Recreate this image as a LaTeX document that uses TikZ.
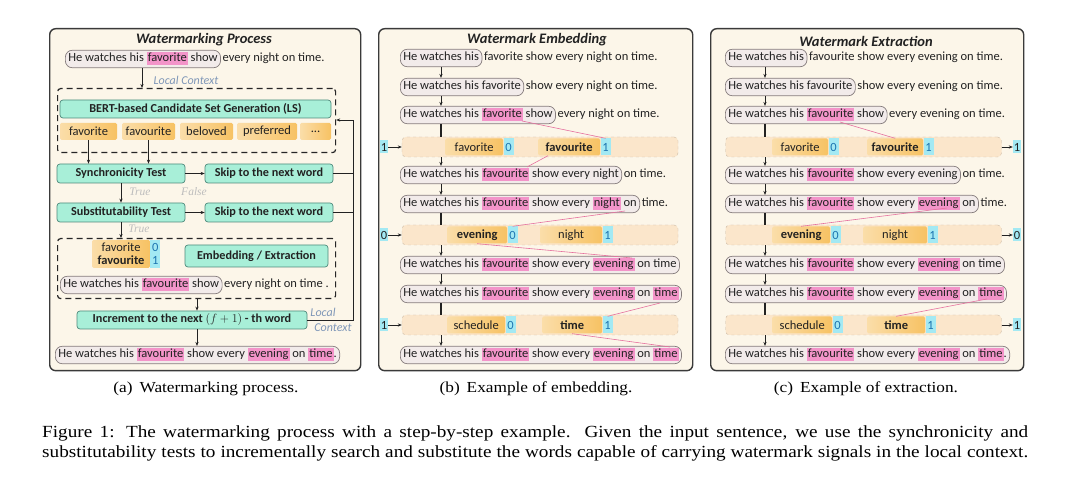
\documentclass[tikz,border=0pt]{standalone}
\usepackage{graphicx}
\usepackage{fontspec}
\setmainfont{Carlito}
\newfontfamily\capfont{Liberation Serif}
\usetikzlibrary{arrows.meta,calc}
\definecolor{panelbg}{HTML}{FCF6E9}
\definecolor{paneldraw}{HTML}{3A3A3A}
\definecolor{pillfill}{HTML}{F2EBEA}
\definecolor{pilldraw}{HTML}{857C7C}
\definecolor{hlpink}{HTML}{F394C9}
\definecolor{pinkline}{HTML}{E5709E}
\definecolor{gfill}{HTML}{A8EFD8}
\definecolor{gdraw}{HTML}{4F8A7C}
\definecolor{ofill}{HTML}{F7C263}
\definecolor{cfill}{HTML}{A3E9F3}
\definecolor{ctext}{HTML}{1C74B0}
\definecolor{barfill}{HTML}{FBE6CB}
\definecolor{bardraw}{HTML}{CDBBA6}
\definecolor{lblue}{HTML}{7F97B8}
\definecolor{lgray}{HTML}{BDBDBD}
\definecolor{txtc}{HTML}{222222}
\newcommand\ptxt{\fontsize{12.5}{14}\selectfont}
\newcommand\sstrut{\rule[-3.5pt]{0pt}{13pt}}
\newcommand\hlw[1]{{\setlength\fboxsep{0pt}\colorbox{hlpink}{\sstrut\hspace{1pt}#1\hspace{1pt}}}}
\newcommand\rowr[5]{%
  \node[pill] (#1) at (#2,#3) {\sstrut #4};
  \node[rest] (#1r) at (#1.base east) {#5};}
\newcommand\barrow[9]{%
  \node[bar] (#1) at (#3,#2) {};
  \node[ob, minimum width=#5pt] (#1o0) at (#4,#2) {#6};
  \node[cb] (#1c0) at (#1o0.east) {0};
  \node[ob, minimum width=#8pt] (#1o1) at (#7,#2) {#9};
  \node[cb] (#1c1) at (#1o1.east) {1};}
\begin{document}
\begin{tikzpicture}[x=1pt,y=-1pt,
  panel/.style={draw=paneldraw, fill=panelbg, line width=1.4pt, rounded corners=6pt, anchor=north west, inner sep=0pt},
  pill/.style={draw=pilldraw, fill=pillfill, line width=0.7pt, rounded corners=7pt, inner xsep=3pt, inner ysep=0pt, minimum height=17.5pt, anchor=west, font=\ptxt, text=txtc},
  rest/.style={anchor=base west, inner xsep=1.5pt, inner ysep=0pt, font=\ptxt, text=txtc},
  gbox/.style={draw=gdraw, fill=gfill, line width=0.7pt, rounded corners=3pt, inner sep=0pt, font=\fontsize{12.2}{14}\selectfont\bfseries, text=txtc},
  ob/.style={anchor=west, left color=ofill!55!white, right color=ofill, rounded corners=1.5pt, inner sep=0pt, minimum height=17pt, font=\ptxt, text=txtc},
  cb/.style={anchor=west, fill=cfill, inner sep=0pt, minimum width=10pt, minimum height=17pt, font=\ptxt, text=ctext},
  mk/.style={fill=cfill, inner sep=0pt, minimum width=8pt, minimum height=13pt, font=\ptxt, text=txtc},
  bar/.style={draw=bardraw, dashed, fill=barfill, rounded corners=4pt, minimum width=276pt, minimum height=20pt, inner sep=0pt},
  dbox/.style={draw=black!85, line width=1.2pt, dash pattern=on 6pt off 4pt, rounded corners=3pt, anchor=north west, inner sep=0pt},
  arr/.style={-{Stealth[length=4pt,width=3.2pt]}, line width=0.7pt, draw=txtc},
  ln/.style={line width=0.9pt, draw=txtc},
  thk/.style={line width=1.8pt, draw=txtc},
  pl/.style={draw=pinkline, line width=0.6pt},
  ttl/.style={font=\fontsize{14.5}{16}\selectfont\bfseries\itshape, text=txtc, inner sep=0pt},
  lbl/.style={font=\fontsize{12}{13}\selectfont\itshape, text=lblue, inner sep=0pt},
  fnt/.style={font=\capfont\fontsize{11.5}{12}\selectfont\itshape, text=lgray, inner sep=0pt},
  subcap/.style={font=\capfont\fontsize{15.3}{17}\selectfont, text=black, inner sep=0pt},
  captext/.style={font=\capfont\fontsize{17}{20}\selectfont, text=black, inner sep=0pt, anchor=base west}]
\useasboundingbox (0,0) rectangle (1080,502);
\fill[white] (0,0) rectangle (1080,502);

% ---------------- panels
\node[panel, minimum width=311pt, minimum height=342pt] (pa) at (49,28) {};
\node[panel, minimum width=314pt, minimum height=342pt] (pb) at (378,28) {};
\node[panel, minimum width=313pt, minimum height=342pt] (pc) at (710,28) {};
\node[ttl] (ta) at (204,40) {Watermarking Process};
\node[ttl] (tb) at (537,40) {Watermark Embedding};
\node[ttl] (tc) at (866,41) {Watermark Extraction};

% ---------------- panel (a)
\rowr{a1}{65}{59}{He watches his \hlw{favorite} show}{every night on time.}
\node[dbox, minimum width=278pt, minimum height=64pt] (d1) at (57,88) {};
\node[lbl] (lc1) at (186,80) {Local Context};
\node[gbox, minimum width=271pt, minimum height=18pt] (bert) at (195.5,109) {BERT-based Candidate Set Generation (LS)};
\node[ob, anchor=center, minimum width=57pt] (k1) at (88.5,131.5) {favorite};
\node[ob, anchor=center, minimum width=53pt] (k2) at (148.5,131.5) {favourite};
\node[ob, anchor=center, minimum width=53pt] (k3) at (206.5,131.5) {beloved};
\node[ob, anchor=center, minimum width=60pt] (k4) at (267,131.5) {preferred};
\node[ob, anchor=center, minimum width=31pt] (k5) at (315.5,131.5) {...};
\node[gbox, minimum width=128pt, minimum height=19pt] (sync) at (121,173.5) {Synchronicity Test};
\node[gbox, minimum width=128pt, minimum height=19pt] (skip1) at (269,173.5) {Skip to the next word};
\node[gbox, minimum width=128pt, minimum height=19pt] (subst) at (121,212.5) {Substitutability Test};
\node[gbox, minimum width=128pt, minimum height=19pt] (skip2) at (269,212.5) {Skip to the next word};
\node[fnt] (t1) at (140,192) {True};
\node[fnt] (f1) at (194,192) {False};
\node[fnt] (t2) at (139,229) {True};
\node[dbox, minimum width=278pt, minimum height=60pt] (d2) at (57,238) {};
\node[ob, anchor=center, minimum width=58pt, minimum height=28pt, align=center, font=\fontsize{12.5}{13}\selectfont] (stk) at (121,254) {favorite\\\textbf{favourite}};
\node[cb, minimum height=28pt, align=center, font=\fontsize{12.5}{13}\selectfont] (stkc) at (stk.east) {0\\1};
\node[gbox, minimum width=143pt, minimum height=22pt] (emb) at (256.5,256) {Embedding / Extraction};
\rowr{a2}{60}{285}{He watches his \hlw{favourite} show}{every night on time .}
\node[gbox, minimum width=230pt, minimum height=18pt] (inc) at (192,320) {Increment to the next $(f+1)$ - th word};
\node[pill] (a3) at (55,355) {\sstrut He watches his \hlw{favourite} show every \hlw{evening} on \hlw{time}.};
\coordinate (ax1) at (142,0);
\coordinate (ax2) at (197,0);
\coordinate (lr) at (353,320);
\coordinate (lt) at (353,120);
\draw[arr] (a1.south -| ax1) -- (d1.north -| ax1);
\draw[arr] (k1.south) -- (sync.north -| k1.south);
\draw[arr] (k2.south) -- (sync.north -| k2.south);
\draw[arr] (sync.east) -- (skip1.west);
\draw[arr] (subst.east) -- (skip2.west);
\draw[arr] (sync.south) -- (subst.north);
\draw[arr] (subst.south) -- (d2.north -| subst.south);
\draw[arr] (d2.south -| ax2) -- (inc.north -| ax2);
\draw[arr] (inc.south -| ax2) -- (a3.north -| ax2);
\draw[arr] (inc.east) -- (lr) -- (lt) -- (d1.east |- lt);
\draw[ln] (skip1.east) -- (skip1.east -| lr);
\draw[ln] (skip2.east) -- (skip2.east -| lr);
\node[lbl] (lc2) at (323,312) {Local};
\node[lbl] (lc3) at (333,328) {Context};

% ---------------- panel (b)
\rowr{b1}{400}{58}{He watches his}{favorite show every night on time.}
\rowr{b2}{400}{87}{He watches his favorite}{show every night on time.}
\rowr{b3}{400}{115}{He watches his \hlw{favorite} show}{every night on time.}
\barrow{bb1}{147}{540}{445}{58}{favorite}{538}{62}{\bfseries favourite}
\rowr{b4}{400}{175}{He watches his \hlw{favourite} show every night}{on time.}
\rowr{b5}{400}{204}{He watches his \hlw{favourite} show every \hlw{night} on}{time.}
\barrow{bb2}{235}{540}{447}{60}{\bfseries evening}{540}{62}{night}
\node[pill] (b6) at (400,265) {\sstrut He watches his \hlw{favourite} show every \hlw{evening} on time};
\node[pill] (b7) at (400,294) {\sstrut He watches his \hlw{favourite} show every \hlw{evening} on \hlw{time}\ };
\barrow{bb3}{325}{540}{447}{58}{schedule}{542}{60}{\bfseries time}
\node[pill] (b8) at (400,355) {\sstrut He watches his \hlw{favourite} show every \hlw{evening} on \hlw{time}\ };
\node[mk] (bm1) at (384,147) {1};
\node[mk] (bm2) at (384,235) {0};
\node[mk] (bm3) at (384,325) {1};
\draw[arr] (bm1.east) -- (bb1.west);
\draw[arr] (bm2.east) -- (bb2.west);
\draw[arr] (bm3.east) -- (bb3.west);
\coordinate (bx) at (441,0);
\draw[arr] (b1.south -| bx) -- (b2.north -| bx);
\draw[arr] (b2.south -| bx) -- (b3.north -| bx);
\draw[thk] (b3.south -| bx) -- (bb1.north -| bx);
\draw[arr] (bb1.south -| bx) -- (b4.north -| bx);
\draw[arr] (b4.south -| bx) -- (b5.north -| bx);
\draw[thk] (b5.south -| bx) -- (bb2.north -| bx);
\draw[arr] (bb2.south -| bx) -- (b6.north -| bx);
\draw[arr] (b6.south -| bx) -- (b7.north -| bx);
\draw[thk] (b7.south -| bx) -- (bb3.north -| bx);
\draw[arr] (bb3.south -| bx) -- (b8.north -| bx);
\coordinate (pb1s) at (522,121);
\coordinate (pb1e) at (527,167);
\coordinate (pb2s) at (625,211);
\coordinate (pb2e) at (632,258);
\coordinate (pb3s) at (660,303);
\coordinate (pb3e) at (670,347);
\draw[pl] (pb1s) -- (bb1c1.north);
\draw[pl] ($(bb1o1.south west)+(10,0)$) -- (pb1e);
\draw[pl] (pb2s) -- (bb2c0.north);
\draw[pl] (bb2o0.south) -- (pb2e);
\draw[pl] (pb3s) -- (bb3c1.north);
\draw[pl] (bb3o1.south) -- (pb3e);

% ---------------- panel (c)
\rowr{c1}{725}{58}{He watches his}{favourite show every evening on time.}
\rowr{c2}{725}{87}{He watches his favourite}{show every evening on time.}
\rowr{c3}{725}{115}{He watches his \hlw{favourite} show}{every evening on time.}
\barrow{cc1}{147}{863.5}{772}{56}{favorite}{867}{56}{\bfseries favourite}
\rowr{c4}{725}{175}{He watches his \hlw{favourite} show every evening}{on time.}
\rowr{c5}{725}{204}{He watches his \hlw{favourite} show every \hlw{evening} on}{time.}
\barrow{cc2}{235}{863.5}{772}{58}{\bfseries evening}{863}{64}{night}
\node[pill] (c6) at (725,265) {\sstrut He watches his \hlw{favourite} show every \hlw{evening} on time};
\node[pill] (c7) at (725,294) {\sstrut He watches his \hlw{favourite} show every \hlw{evening} on \hlw{time}\ };
\barrow{cc3}{325}{863.5}{772}{60}{schedule}{867}{58}{\bfseries time}
\node[pill] (c8) at (725,355) {\sstrut He watches his \hlw{favourite} show every \hlw{evening} on \hlw{time}.};
\node[mk] (cm1) at (1017,147) {1};
\node[mk] (cm2) at (1017,235) {0};
\node[mk] (cm3) at (1017,325) {1};
\draw[arr] (cc1.east) -- (cm1.west);
\draw[arr] (cc2.east) -- (cm2.west);
\draw[arr] (cc3.east) -- (cm3.west);
\coordinate (cx) at (765,0);
\draw[arr] (c1.south -| cx) -- (c2.north -| cx);
\draw[arr] (c2.south -| cx) -- (c3.north -| cx);
\draw[thk] (c3.south -| cx) -- (cc1.north -| cx);
\draw[arr] (cc1.south -| cx) -- (c4.north -| cx);
\draw[arr] (c4.south -| cx) -- (c5.north -| cx);
\draw[thk] (c5.south -| cx) -- (cc2.north -| cx);
\draw[arr] (cc2.south -| cx) -- (c6.north -| cx);
\draw[arr] (c6.south -| cx) -- (c7.north -| cx);
\draw[thk] (c7.south -| cx) -- (cc3.north -| cx);
\draw[arr] (cc3.south -| cx) -- (c8.north -| cx);
\coordinate (pc1s) at (840,122);
\coordinate (pc2s) at (947,208);
\coordinate (pc3s) at (987,299);
\draw[pl] (pc1s) -- (cc1o1.north);
\draw[pl] (pc2s) -- (cc2o0.north);
\draw[pl] (pc3s) -- (cc3o1.north);

% ---------------- captions
\node[subcap] (sa) at (206,389) {\scalebox{1.13}[1]{(a)\hspace{0.4em}Watermarking process.}};
\node[subcap] (sb) at (536,389) {\scalebox{1.13}[1]{(b)\hspace{0.4em}Example of embedding.}};
\node[subcap] (sc) at (866,389) {\scalebox{1.13}[1]{(c)\hspace{0.4em}Example of extraction.}};
\node[captext] (cap1) at (42,438) {\scalebox{1.13}[1]{\makebox[872.6pt][s]{Figure 1: The watermarking process with a step-by-step example. Given the input sentence, we use the synchronicity and}}};
\node[captext] (cap2) at (42,458) {\scalebox{1.13}[1]{\makebox[872.6pt][s]{substitutability tests to incrementally search and substitute the words capable of carrying watermark signals in the local context.}}};
\end{tikzpicture}
\end{document}
